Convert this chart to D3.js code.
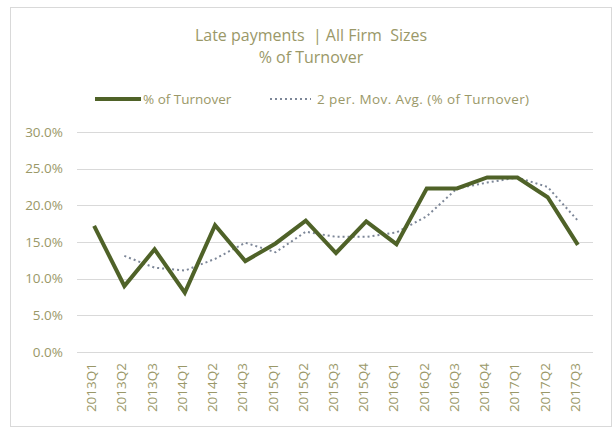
<!DOCTYPE html>
<html>
<head>
<meta charset="utf-8">
<script src="https://cdn.jsdelivr.net/npm/d3@7"></script>
<style>
  body { margin: 0; background: #fff; }
  text { font-family: "Open Sans", "Liberation Sans", sans-serif; white-space: pre; }
</style>
</head>
<body>
<div id="chart"></div>
<script>
const quarters = ["2013Q1", "2013Q2", "2013Q3", "2014Q1", "2014Q2", "2014Q3", "2015Q1", "2015Q2", "2015Q3",
    "2015Q4", "2016Q1", "2016Q2", "2016Q3", "2016Q4", "2017Q1", "2017Q2", "2017Q3"];
const turnover = [17.2, 9.0, 14.0, 8.1, 17.3, 12.4, 14.8, 17.9, 13.5, 17.8, 14.7, 22.3, 22.3, 23.8, 23.8, 21.1, 14.6];
// moving average line (no value for the first quarter)
const movAvg = [null, 13.1, 11.5, 11.1, 12.7, 14.9, 13.6, 16.4, 15.7, 15.7, 16.3, 18.5, 22.3, 23.1, 23.8, 22.5, 17.9];
const yTicks = [0, 5, 10, 15, 20, 25, 30];

const width = 614, height = 428;
const plotLeft = 79, plotRight = 593, plotTop = 132, plotBottom = 352;
const textColor = "#9a9868";

const svg = d3.select("#chart").append("svg")
    .attr("width", width)
    .attr("height", height);

// chart frame
svg.append("rect")
    .attr("x", 10.5).attr("y", 7.5)
    .attr("width", 601).attr("height", 419)
    .attr("fill", "#fff")
    .attr("stroke", "#d9d9d9");

const x = d3.scaleBand().domain(quarters).range([plotLeft, plotRight]);
const y = d3.scaleLinear().domain([0, 30]).range([plotBottom, plotTop]);

// gridlines
svg.append("g").selectAll("line")
    .data(yTicks).enter().append("line")
    .attr("x1", plotLeft - 2).attr("x2", plotRight)
    .attr("y1", d => Math.round(y(d)) + 0.5)
    .attr("y2", d => Math.round(y(d)) + 0.5)
    .attr("stroke", "#d9d9d9");

// y labels
svg.append("g").selectAll("text")
    .data(yTicks).enter().append("text")
    .attr("x", 63)
    .attr("y", d => y(d) + 4.5)
    .attr("text-anchor", "end")
    .attr("font-size", 13.5)
    .attr("fill", textColor)
    .text(d => d.toFixed(1) + "%");

// x labels
svg.append("g").selectAll("text")
    .data(quarters).enter().append("text")
    .attr("transform", d => `translate(${x(d) + x.bandwidth() / 2 + 2},${plotBottom + 11}) rotate(-90)`)
    .attr("text-anchor", "end")
    .attr("font-size", 13.5)
    .attr("fill", textColor)
    .text(d => d);

const cx = (d, i) => x(quarters[i]) + x.bandwidth() / 2;

// moving average
svg.append("path")
    .datum(movAvg)
    .attr("fill", "none")
    .attr("stroke", "#7d8798")
    .attr("stroke-width", 2)
    .attr("stroke-dasharray", "2,3")
    .attr("d", d3.line().defined(d => d !== null).x(cx).y(d => y(d)));

// main series
svg.append("path")
    .datum(turnover)
    .attr("fill", "none")
    .attr("stroke", "#4f6228")
    .attr("stroke-width", 4)
    .attr("stroke-linejoin", "miter")
    .attr("d", d3.line().x(cx).y(d => y(d)));

// title
const title = svg.append("text")
    .attr("text-anchor", "middle")
    .attr("font-size", 16)
    .attr("fill", textColor);
title.append("tspan").attr("x", 311).attr("y", 41).text("Late payments  | All Firm  Sizes");
title.append("tspan").attr("x", 311).attr("y", 63).text("% of Turnover");

// legend
const lg = svg.append("g").attr("font-size", 13.5).attr("fill", textColor);
lg.append("line").attr("x1", 95).attr("x2", 141).attr("y1", 99).attr("y2", 99)
    .attr("stroke", "#4f6228").attr("stroke-width", 4);
lg.append("text").attr("x", 143).attr("y", 103.5).text("% of Turnover");
lg.append("line").attr("x1", 270).attr("x2", 311).attr("y1", 99).attr("y2", 99)
    .attr("stroke", "#7d8798").attr("stroke-width", 2).attr("stroke-dasharray", "2,3");
lg.append("text").attr("x", 317).attr("y", 103.5).attr("letter-spacing", 0.4)
    .text("2 per. Mov. Avg. (% of Turnover)");
</script>
</body>
</html>
